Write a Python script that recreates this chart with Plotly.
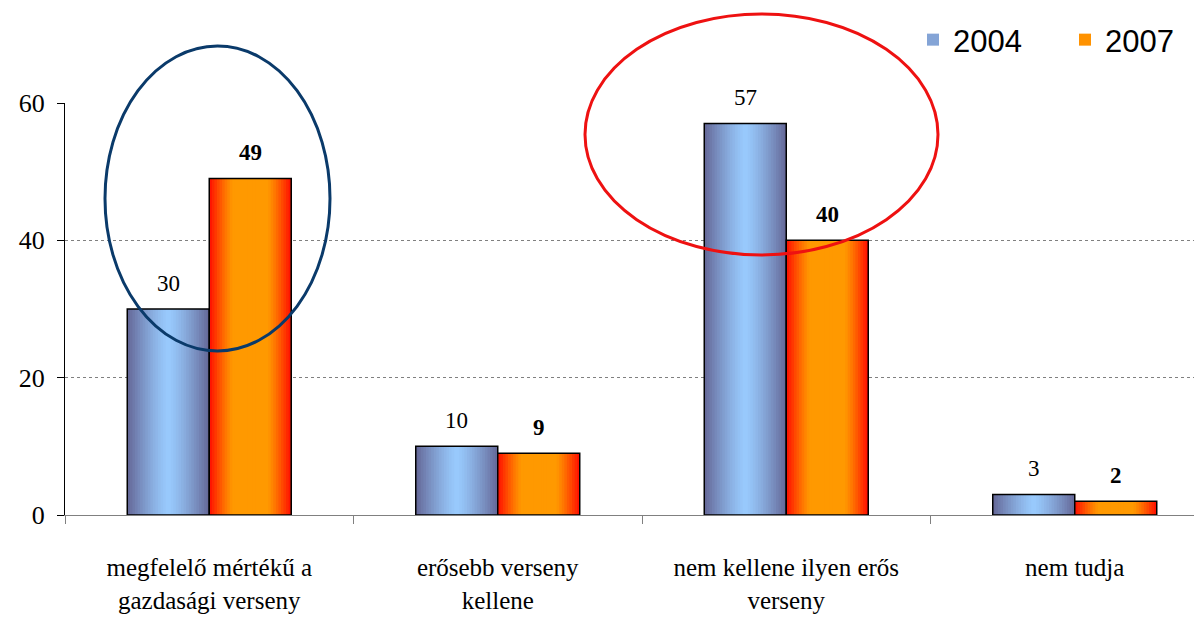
import plotly.graph_objects as go

categories = ["megfelelő mértékű a<br>gazdasági verseny", "erősebb verseny<br>kellene",
              "nem kellene ilyen erős<br>verseny", "nem tudja"]
years = ["2004", "2007"]
values_2004 = [30, 10, 57, 3]
values_2007 = [49, 9, 40, 2]
y_ticks = [0, 20, 40, 60]

SERIF = "Times New Roman, Liberation Serif, serif"
SANS = "Liberation Sans, Arial, sans-serif"

W = 0.2842  # width of one bar (category units)
N = 16      # gradient layers


def hex2rgb(h):
    h = h.lstrip("#")
    return tuple(int(h[i:i + 2], 16) for i in (0, 2, 4))


def mix(c1, c2, t):
    a, b = hex2rgb(c1), hex2rgb(c2)
    return "rgb(%d,%d,%d)" % tuple(round(a[i] + (b[i] - a[i]) * t) for i in range(3))


def blue_t(d):
    return min(1.0, max(0.0, d)) ** 1.3


def orange_t(d):
    v = (d - 0.45) / 0.55
    return min(1.0, max(0.0, v)) ** 1.2


series = [
    dict(name="2004", vals=values_2004, center="#99ccff", edge="#666a9a", tf=blue_t, side=-1),
    dict(name="2007", vals=values_2007, center="#ff9900", edge="#ff1500", tf=orange_t, side=1),
]

fig = go.Figure()
for s in series:
    for k in range(N):
        f = 1 - k / N
        col = mix(s["center"], s["edge"], s["tf"](f))
        off = s["side"] * W / 2 - W * f / 2
        show = (k == N // 2)
        fig.add_trace(go.Bar(
            x=categories, y=s["vals"], width=[W * f] * len(categories), offset=[off] * len(categories),
            marker=dict(color=col, line=dict(width=0)),
            name=s["name"], showlegend=show, legendgroup=s["name"],
            hoverinfo="skip",
        ))
    # outline
    fig.add_trace(go.Bar(
        x=categories, y=s["vals"], width=[W] * len(categories),
        offset=[s["side"] * W / 2 - W / 2] * len(categories),
        marker=dict(color="rgba(0,0,0,0)", line=dict(color="black", width=1.5)),
        showlegend=False, hoverinfo="skip",
    ))

# data labels
for i, c in enumerate(categories):
    fig.add_annotation(x=c, y=values_2004[i], xref="x", yref="y", text=str(values_2004[i]),
                       showarrow=False, xshift=-W / 2 * 288.5, yshift=26, yanchor="middle",
                       font=dict(family=SERIF, size=23, color="black"))
    fig.add_annotation(x=c, y=values_2007[i], xref="x", yref="y", text="<b>%d</b>" % values_2007[i],
                       showarrow=False, xshift=W / 2 * 288.5, yshift=26, yanchor="middle",
                       font=dict(family=SERIF, size=23, color="black"))

# plot area geometry (figure px): left 57, top 95, width 1145, height 412
PL, PT, PW, PH = 57, 95, 1145, 412


def px2paper_x(px):
    return (px - 8 - PL) / PW


def px2paper_y(py):
    return (PT + PH - (py - 8)) / PH


# highlight ellipses (paper coordinates so they are not clipped by the plot area)
fig.add_shape(type="circle", xref="paper", yref="paper",
              x0=px2paper_x(105), x1=px2paper_x(330), y0=px2paper_y(351), y1=px2paper_y(46),
              line=dict(color="#0a3a6a", width=3), fillcolor="rgba(0,0,0,0)")
fig.add_shape(type="circle", xref="paper", yref="paper",
              x0=px2paper_x(585), x1=px2paper_x(938), y0=px2paper_y(255), y1=px2paper_y(14),
              line=dict(color="#ee1111", width=3), fillcolor="rgba(0,0,0,0)")

fig.update_layout(
    width=1202, height=622,
    margin=dict(l=PL, r=1202 - PL - PW, t=PT, b=622 - PT - PH, autoexpand=False),
    barmode="overlay",
    plot_bgcolor="white", paper_bgcolor="white",
    font=dict(family=SERIF, size=25, color="black"),
    legend=dict(orientation="h", x=px2paper_x(913), xanchor="left", y=px2paper_y(40), yanchor="middle",
                font=dict(family=SANS, size=31, color="black"),
                itemwidth=30, entrywidth=107, entrywidthmode="pixels",
                bgcolor="rgba(0,0,0,0)", traceorder="normal"),
    xaxis=dict(type="category", range=[-0.5, -0.5 + PW / 288.5],
               tickson="boundaries", ticks="outside", ticklen=8, tickcolor="#808080",
               showline=True, linecolor="#808080", linewidth=1, showgrid=False,
               zeroline=False, ticklabelstandoff=30,
               tickfont=dict(family=SERIF, size=25, color="black")),
    yaxis=dict(range=[0, 60], tickvals=y_ticks, ticks="outside", ticklen=7, tickcolor="black",
               showline=True, linecolor="black", linewidth=1,
               showgrid=True, gridcolor="#808080", griddash="dot", gridwidth=1,
               zeroline=False, ticklabelstandoff=7,
               tickfont=dict(family=SERIF, size=26, color="black")),
    showlegend=True,
)

fig.write_html("out.html")
